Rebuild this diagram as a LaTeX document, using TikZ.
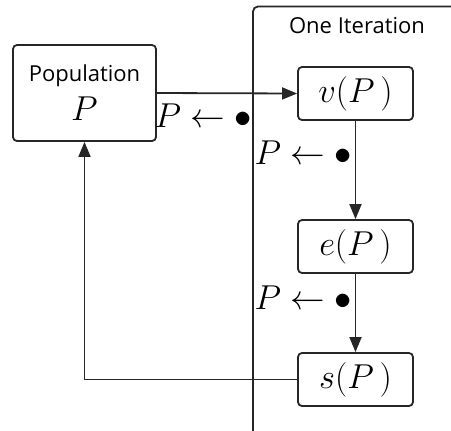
\documentclass[tikz,border=0pt]{standalone}
\usepackage{fontspec}
\setmainfont{Open Sans}
\usepackage{tikz}
\usetikzlibrary{positioning,arrows.meta}
\definecolor{ink}{HTML}{262626}
\tikzset{
  stepbox/.style={draw=ink,rounded corners=2pt,line width=0.9pt,minimum width=57.5pt,
                  minimum height=26.5pt,inner sep=0pt,font=\fontsize{16.5}{18}\selectfont},
  popbox/.style={draw=ink,rounded corners=2pt,line width=0.9pt,minimum width=71.5pt,
                 minimum height=48pt,inner sep=0pt,align=center,font=\fontsize{11}{14}\selectfont},
  lbl/.style={inner sep=0pt,font=\fontsize{16.5}{18}\selectfont},
  arrow/.style={-{Triangle[length=7.5pt,width=6pt]},line width=0.9pt,color=ink},
}
\begin{document}
\begin{tikzpicture}[x=0.5pt,y=-0.5pt]
  \useasboundingbox (0,0) rectangle (451,430);
  % the iteration frame, cut by the page edge
  \draw[ink,line width=0.9pt,rounded corners=2.5pt] (253,470) -- (253,6.5) -- (480,6.5);
  \node[font=\fontsize{11}{14}\selectfont] (title) at (357,26) {One Iteration};

  \node[popbox] (pop) at (84.5,93) {Population\\[4pt]{\fontsize{16.5}{18}\selectfont$P$}};
  \node[stepbox] (v) at (355.5,93.5) {$v(P\,)$};
  \node[stepbox] (e) at (355.5,246.5) {$e(P\,)$};
  \node[stepbox] (s) at (355.5,379.5) {$s(P\,)$};

  \foreach \n/\x/\y in {1/203.5/116, 2/303.5/153, 3/303.5/298}{
    \node[lbl] (lbl\n) at (\x,\y) {$P \leftarrow \bullet$};
  }

  \draw[arrow] (pop.east) -- (v.west);
  \draw[arrow] (v) -- (e);
  \draw[arrow] (e) -- (s);
  \draw[arrow] (s.west) -| (pop.south);
\end{tikzpicture}
\end{document}
